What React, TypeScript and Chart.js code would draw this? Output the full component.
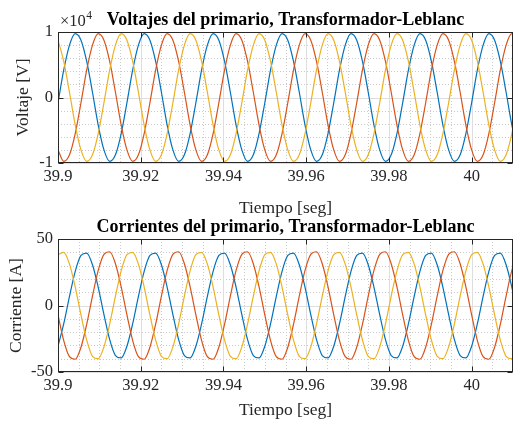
import React, { useEffect, useRef } from "react";
import { Chart, registerables } from "chart.js";

Chart.register(...registerables);

// Time samples [s]
const TIME = [
  39.9, 39.901389, 39.902778, 39.904167, 39.905556, 39.906944, 39.908333, 39.909722, 39.911111, 39.9125, 39.913889, 39.915278,
  39.916667, 39.918056, 39.919444, 39.920833, 39.922222, 39.923611, 39.925, 39.926389, 39.927778, 39.929167, 39.930556, 39.931944,
  39.933333, 39.934722, 39.936111, 39.9375, 39.938889, 39.940278, 39.941667, 39.943056, 39.944444, 39.945833, 39.947222, 39.948611,
  39.95, 39.951389, 39.952778, 39.954167, 39.955556, 39.956944, 39.958333, 39.959722, 39.961111, 39.9625, 39.963889, 39.965278,
  39.966667, 39.968056, 39.969444, 39.970833, 39.972222, 39.973611, 39.975, 39.976389, 39.977778, 39.979167, 39.980556, 39.981944,
  39.983333, 39.984722, 39.986111, 39.9875, 39.988889, 39.990278, 39.991667, 39.993056, 39.994444, 39.995833, 39.997222, 39.998611,
  40, 40.001389, 40.002778, 40.004167, 40.005556, 40.006944, 40.008333, 40.009722, 40.011111,
];

// Primary voltages [V]
const VOLT_A = [
  -800, 4200, 8000, 9750, 8750, 5500, 800, -4200, -8000, -9750, -8750, -5500,
  -800, 4200, 8000, 9750, 8750, 5500, 800, -4200, -8000, -9750, -8750, -5500,
  -800, 4200, 8000, 9750, 8750, 5500, 800, -4200, -8000, -9750, -8750, -5500,
  -800, 4200, 8000, 9750, 8750, 5500, 800, -4200, -8000, -9750, -8750, -5500,
  -800, 4200, 8000, 9750, 8750, 5500, 800, -4200, -8000, -9750, -8750, -5500,
  -800, 4200, 8000, 9750, 8750, 5500, 800, -4200, -8000, -9750, -8750, -5500,
  -800, 4200, 8000, 9750, 8750, 5500, 800, -4200, -8000,
];
const VOLT_B = [
  -8000, -9750, -8750, -5500, -800, 4200, 8000, 9750, 8750, 5500, 800, -4200,
  -8000, -9750, -8750, -5500, -800, 4200, 8000, 9750, 8750, 5500, 800, -4200,
  -8000, -9750, -8750, -5500, -800, 4200, 8000, 9750, 8750, 5500, 800, -4200,
  -8000, -9750, -8750, -5500, -800, 4200, 8000, 9750, 8750, 5500, 800, -4200,
  -8000, -9750, -8750, -5500, -800, 4200, 8000, 9750, 8750, 5500, 800, -4200,
  -8000, -9750, -8750, -5500, -800, 4200, 8000, 9750, 8750, 5500, 800, -4200,
  -8000, -9750, -8750, -5500, -800, 4200, 8000, 9750, 8750,
];
const VOLT_C = [
  8750, 5500, 800, -4200, -8000, -9750, -8750, -5500, -800, 4200, 8000, 9750,
  8750, 5500, 800, -4200, -8000, -9750, -8750, -5500, -800, 4200, 8000, 9750,
  8750, 5500, 800, -4200, -8000, -9750, -8750, -5500, -800, 4200, 8000, 9750,
  8750, 5500, 800, -4200, -8000, -9750, -8750, -5500, -800, 4200, 8000, 9750,
  8750, 5500, 800, -4200, -8000, -9750, -8750, -5500, -800, 4200, 8000, 9750,
  8750, 5500, 800, -4200, -8000, -9750, -8750, -5500, -800, 4200, 8000, 9750,
  8750, 5500, 800, -4200, -8000, -9750, -8750, -5500, -800,
];

// Primary currents [A]
const CURR_A = [
  -30.6, -13.7, 6.9, 25.7, 37.6, 39.4, 30.6, 13.7, -6.9, -25.7, -37.6, -39.4,
  -30.6, -13.7, 6.9, 25.7, 37.6, 39.4, 30.6, 13.7, -6.9, -25.7, -37.6, -39.4,
  -30.6, -13.7, 6.9, 25.7, 37.6, 39.4, 30.6, 13.7, -6.9, -25.7, -37.6, -39.4,
  -30.6, -13.7, 6.9, 25.7, 37.6, 39.4, 30.6, 13.7, -6.9, -25.7, -37.6, -39.4,
  -30.6, -13.7, 6.9, 25.7, 37.6, 39.4, 30.6, 13.7, -6.9, -25.7, -37.6, -39.4,
  -30.6, -13.7, 6.9, 25.7, 37.6, 39.4, 30.6, 13.7, -6.9, -25.7, -37.6, -39.4,
  -30.6, -13.7, 6.9, 25.7, 37.6, 39.4, 30.6, 13.7, -6.9,
];
const CURR_B = [
  -7.1, -26.4, -38.5, -40.4, -31.4, -14.0, 7.1, 26.4, 38.5, 40.4, 31.4, 14.0,
  -7.1, -26.4, -38.5, -40.4, -31.4, -14.0, 7.1, 26.4, 38.5, 40.4, 31.4, 14.0,
  -7.1, -26.4, -38.5, -40.4, -31.4, -14.0, 7.1, 26.4, 38.5, 40.4, 31.4, 14.0,
  -7.1, -26.4, -38.5, -40.4, -31.4, -14.0, 7.1, 26.4, 38.5, 40.4, 31.4, 14.0,
  -7.1, -26.4, -38.5, -40.4, -31.4, -14.0, 7.1, 26.4, 38.5, 40.4, 31.4, 14.0,
  -7.1, -26.4, -38.5, -40.4, -31.4, -14.0, 7.1, 26.4, 38.5, 40.4, 31.4, 14.0,
  -7.1, -26.4, -38.5, -40.4, -31.4, -14.0, 7.1, 26.4, 38.5,
];
const CURR_C = [
  38.2, 40.0, 31.1, 13.9, -7.1, -26.1, -38.2, -40.0, -31.1, -13.9, 7.1, 26.1,
  38.2, 40.0, 31.1, 13.9, -7.1, -26.1, -38.2, -40.0, -31.1, -13.9, 7.1, 26.1,
  38.2, 40.0, 31.1, 13.9, -7.1, -26.1, -38.2, -40.0, -31.1, -13.9, 7.1, 26.1,
  38.2, 40.0, 31.1, 13.9, -7.1, -26.1, -38.2, -40.0, -31.1, -13.9, 7.1, 26.1,
  38.2, 40.0, 31.1, 13.9, -7.1, -26.1, -38.2, -40.0, -31.1, -13.9, 7.1, 26.1,
  38.2, 40.0, 31.1, 13.9, -7.1, -26.1, -38.2, -40.0, -31.1, -13.9, 7.1, 26.1,
  38.2, 40.0, 31.1, 13.9, -7.1, -26.1, -38.2, -40.0, -31.1,
];

const X_TICKS = [39.9, 39.92, 39.94, 39.96, 39.98, 40];
const X_TICK_LABELS = ["39.9", "39.92", "39.94", "39.96", "39.98", "40"];
const VOLT_TICKS = [-10000, 0, 10000];
const VOLT_TICK_LABELS = ["-1", "0", "1"];
const CURR_TICKS = [-50, 0, 50];
const CURR_TICK_LABELS = ["-50", "0", "50"];

const SERIES_NAMES = ["Fase A", "Fase B", "Fase C"];
const COLORS = ["#0072BD", "#D95319", "#EDB120"];

const FONT = "'Liberation Serif', 'Times New Roman', serif";
const AXIS_COLOR = "#262626";

const matlabAxes = {
  id: "matlabAxes",
  beforeDatasetsDraw(chart: any, _args: any, opts: any) {
    const { ctx, chartArea: a, scales } = chart;
    const x = scales.x;
    const y = scales.y;
    ctx.save();
    ctx.lineWidth = 1;
    ctx.strokeStyle = "#c9c9c9";
    ctx.setLineDash([1, 2]);
    for (let v = opts.xMin + opts.xMinorStep; v < opts.xMax - 1e-9; v += opts.xMinorStep) {
      const px = Math.round(x.getPixelForValue(v)) + 0.5;
      ctx.beginPath();
      ctx.moveTo(px, a.top);
      ctx.lineTo(px, a.bottom);
      ctx.stroke();
    }
    for (let v = opts.yMin + opts.yMinorStep; v < opts.yMax - 1e-9; v += opts.yMinorStep) {
      const py = Math.round(y.getPixelForValue(v)) + 0.5;
      ctx.beginPath();
      ctx.moveTo(a.left, py);
      ctx.lineTo(a.right, py);
      ctx.stroke();
    }
    ctx.setLineDash([]);
    ctx.strokeStyle = "#dedede";
    x.ticks.forEach((t: any) => {
      const px = Math.round(x.getPixelForValue(t.value)) + 0.5;
      ctx.beginPath();
      ctx.moveTo(px, a.top);
      ctx.lineTo(px, a.bottom);
      ctx.stroke();
    });
    y.ticks.forEach((t: any) => {
      const py = Math.round(y.getPixelForValue(t.value)) + 0.5;
      ctx.beginPath();
      ctx.moveTo(a.left, py);
      ctx.lineTo(a.right, py);
      ctx.stroke();
    });
    ctx.restore();
  },
  afterDraw(chart: any, _args: any, opts: any) {
    const { ctx, chartArea: a, scales } = chart;
    const x = scales.x;
    const y = scales.y;
    ctx.save();
    const L = Math.round(a.left) + 0.5;
    const R = Math.round(a.right) - 0.5;
    const T = Math.round(a.top) + 0.5;
    const B = Math.round(a.bottom) - 0.5;
    ctx.strokeStyle = AXIS_COLOR;
    ctx.lineWidth = 1;
    ctx.strokeRect(L, T, R - L, B - T);
    const tl = 5;
    ctx.beginPath();
    x.ticks.forEach((t: any) => {
      const px = Math.round(x.getPixelForValue(t.value)) + 0.5;
      ctx.moveTo(px, B);
      ctx.lineTo(px, B - tl);
      ctx.moveTo(px, T);
      ctx.lineTo(px, T + tl);
    });
    y.ticks.forEach((t: any) => {
      const py = Math.round(y.getPixelForValue(t.value)) + 0.5;
      ctx.moveTo(L, py);
      ctx.lineTo(L + tl, py);
      ctx.moveTo(R, py);
      ctx.lineTo(R - tl, py);
    });
    ctx.stroke();
    ctx.fillStyle = "#000";
    ctx.font = `bold 18px ${FONT}`;
    ctx.textAlign = "center";
    ctx.textBaseline = "alphabetic";
    ctx.fillText(opts.title, (a.left + a.right) / 2, a.top - 7.5);
    if (opts.exponent) {
      ctx.fillStyle = AXIS_COLOR;
      ctx.textAlign = "left";
      ctx.font = `16.5px ${FONT}`;
      const base = "\u00d710";
      ctx.fillText(base, a.left + 2, a.top - 6);
      const w = ctx.measureText(base).width;
      ctx.font = `11.5px ${FONT}`;
      ctx.fillText(opts.exponent, a.left + 2 + w + 0.5, a.top - 13);
    }
    ctx.restore();
  },
};

function makeConfig(p: any) {
  return {
    type: "line",
    data: {
      datasets: p.series.map((s: number[], i: number) => ({
        label: SERIES_NAMES[i],
        data: TIME.map((t, k) => ({ x: t, y: s[k] })),
        borderColor: COLORS[i],
        backgroundColor: COLORS[i],
        borderWidth: 1.2,
        pointRadius: 0,
        fill: false,
        cubicInterpolationMode: "monotone",
        order: 3 - i,
      })),
    },
    options: {
      animation: false,
      responsive: false,
      devicePixelRatio: 1,
      layout: { padding: { left: 0, right: 3, top: p.padTop, bottom: 0 } },
      plugins: {
        legend: { display: false },
        tooltip: { enabled: false },
        matlabAxes: {
          title: p.title,
          exponent: p.exponent,
          xMin: 39.9,
          xMax: 40.01,
          xMinorStep: 0.005,
          yMin: p.yMin,
          yMax: p.yMax,
          yMinorStep: p.yMinorStep,
        },
      },
      scales: {
        x: {
          type: "linear",
          min: 39.9,
          max: 40.01,
          afterBuildTicks: (s: any) => {
            s.ticks = X_TICKS.map((v) => ({ value: v }));
          },
          afterFit: (s: any) => {
            s.height = p.xHeight;
          },
          ticks: {
            callback: (_v: any, i: number) => X_TICK_LABELS[i],
            font: { family: FONT, size: 16.5 },
            color: AXIS_COLOR,
            padding: 4,
            maxRotation: 0,
            autoSkip: false,
          },
          grid: { display: false, drawTicks: false },
          border: { display: false },
          title: {
            display: true,
            text: "Tiempo [seg]",
            font: { family: FONT, size: 17.5 },
            color: AXIS_COLOR,
            padding: { top: 0, bottom: p.xTitlePad },
          },
        },
        y: {
          type: "linear",
          min: p.yMin,
          max: p.yMax,
          afterBuildTicks: (s: any) => {
            s.ticks = p.yTicks.map((v: number) => ({ value: v }));
          },
          afterFit: (s: any) => {
            s.width = 58;
          },
          ticks: {
            callback: (_v: any, i: number) => p.yTickLabels[i],
            font: { family: FONT, size: 16.5 },
            color: AXIS_COLOR,
            padding: 5,
          },
          grid: { display: false, drawTicks: false },
          border: { display: false },
          title: {
            display: true,
            text: p.yTitle,
            font: { family: FONT, size: 17.5 },
            color: AXIS_COLOR,
            padding: { top: p.yTitlePad, bottom: 0 },
          },
        },
      },
    },
    plugins: [matlabAxes],
  };
}

function Panel(props: any) {
  const ref = useRef<HTMLCanvasElement>(null);
  useEffect(() => {
    const chart = new Chart(ref.current as HTMLCanvasElement, makeConfig(props.cfg) as any);
    return () => chart.destroy();
  }, []);
  return (
    <canvas
      ref={ref}
      width={516}
      height={props.height}
      style={{ position: "absolute", left: 0, top: props.top, width: 516, height: props.height }}
    />
  );
}

export default function App() {
  return (
    <div style={{ position: "absolute", left: 0, top: 0, width: 516, height: 421, background: "#fff", overflow: "hidden" }}>
      <Panel
        top={0}
        height={222}
        cfg={{
          series: [VOLT_A, VOLT_B, VOLT_C],
          title: "Voltajes del primario, Transformador-Leblanc",
          exponent: "4",
          yTitle: "Voltaje [V]",
          yMin: -10000,
          yMax: 10000,
          yMinorStep: 2000,
          yTicks: VOLT_TICKS,
          yTickLabels: VOLT_TICK_LABELS,
          padTop: 32,
          xHeight: 59,
          xTitlePad: 3,
          yTitlePad: 13,
        }}
      />
      <Panel
        top={200}
        height={221}
        cfg={{
          series: [CURR_A, CURR_B, CURR_C],
          title: "Corrientes del primario, Transformador-Leblanc",
          exponent: "",
          yTitle: "Corriente [A]",
          yMin: -50,
          yMax: 50,
          yMinorStep: 10,
          yTicks: CURR_TICKS,
          yTickLabels: CURR_TICK_LABELS,
          padTop: 39,
          xHeight: 49,
          xTitlePad: 0,
          yTitlePad: 6,
        }}
      />
    </div>
  );
}
